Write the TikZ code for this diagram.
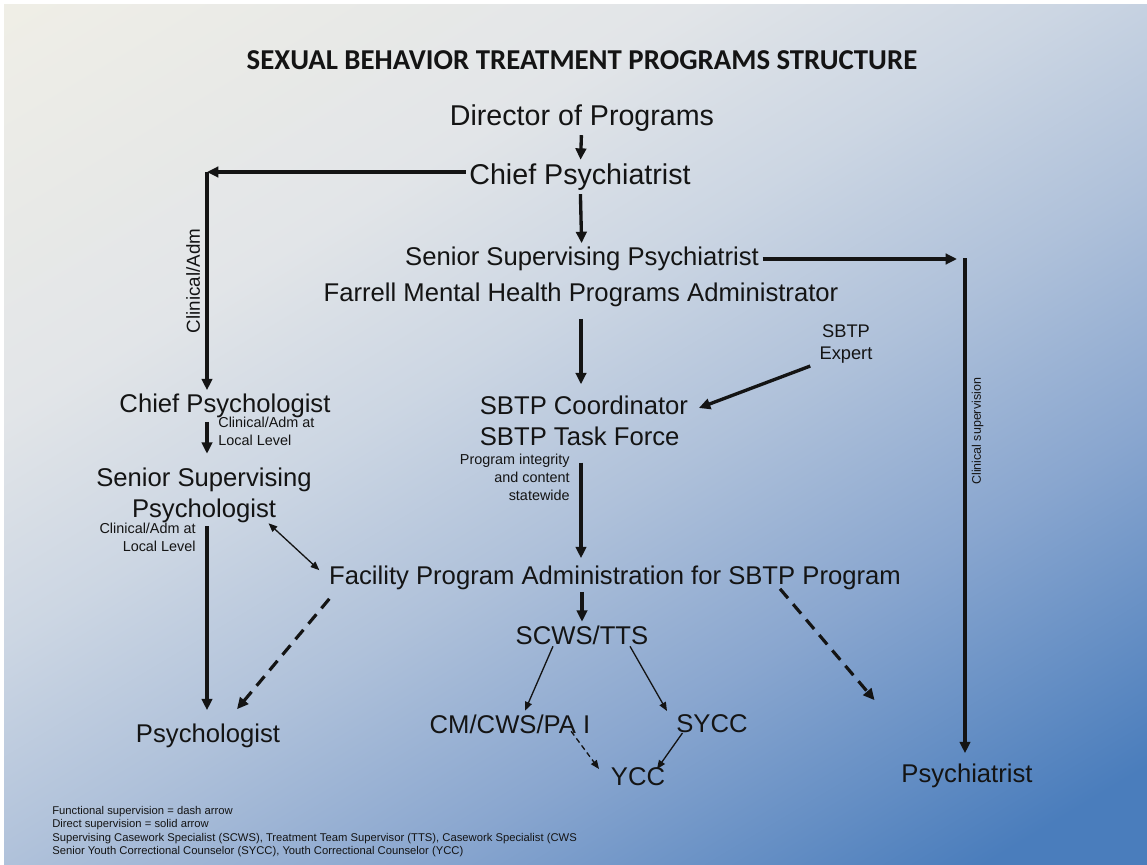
\documentclass[tikz,border=0pt]{standalone}
\usepackage{fontspec}
\setmainfont{Liberation Sans}
\newfontfamily\headfont{Carlito}
\usetikzlibrary{arrows.meta,positioning,calc}

\definecolor{bgT}{HTML}{F2F0E6}
\definecolor{bgA}{HTML}{E2E5E8}
\definecolor{bgB}{HTML}{CCD6E3}
\definecolor{bgC}{HTML}{AFC1DA}
\definecolor{bgD}{HTML}{89A6CF}
\definecolor{bgE}{HTML}{4A7DBC}
\definecolor{ink}{HTML}{141414}
\pgfdeclareverticalshading{bgshade}{100bp}{color(0bp)=(bgE); color(20bp)=(bgE);
  color(35bp)=(bgD); color(46bp)=(bgC); color(56bp)=(bgB); color(66bp)=(bgA);
  color(88bp)=(bgT); color(100bp)=(bgT)}

\begin{document}
\begin{tikzpicture}[x=0.02cm,y=-0.02cm,text=ink,
    toplbl/.style={font=\fontsize{16.3}{18.2}\selectfont, inner sep=2pt},
    lbl/.style={font=\fontsize{14.6}{17.6}\selectfont, inner sep=2pt},
    note/.style={font=\fontsize{8.2}{10.1}\selectfont, inner sep=0pt},
    key/.style={font=\fontsize{6.4}{7.55}\selectfont, inner sep=0pt},
    direct/.style={draw=ink, line width=1.9pt, -{Triangle[length=6.5pt,width=6pt]}},
    minor/.style={draw=ink, line width=0.75pt, -{Triangle[length=5pt,width=4pt]}},
    functional/.style={draw=ink, line width=1.8pt, dash pattern=on 7pt off 4.5pt,
      -{Triangle[length=6.5pt,width=6pt]}}]
    \fill[white] (0,0) rectangle (1147,865);
    \shade[shading=bgshade, shading angle=31] (4,5) rectangle (1147,865);
    \useasboundingbox (0,0) rectangle (1147,865);

    \node[font={\headfont\bfseries\fontsize{16.4}{19}\selectfont}] (title) at (582,60)
        {SEXUAL BEHAVIOR TREATMENT PROGRAMS STRUCTURE};

    \node[toplbl] (dir) at (582,118) {Director of Programs};
    \node[toplbl] (cpsych) at (580,177) {Chief Psychiatrist};
    \node[lbl] (ssp) at (582,259) {Senior Supervising Psychiatrist};
    \node[lbl] (fmh) at (581,295) {Farrell Mental Health Programs Administrator};
    \node[lbl, align=left, anchor=west] (sbtp) at (476,421) {SBTP Coordinator\\SBTP Task Force};
    \node[note, align=center, font=\fontsize{10.4}{13}\selectfont] (expert) at (846,344) {SBTP\\Expert};
    \node[note, align=right, anchor=north east] (integ) at (570,454) {Program integrity\\and content\\statewide};
    \node[lbl] (fac) at (615,578) {Facility Program Administration for SBTP Program};
    \node[lbl] (scws) at (582,635) {SCWS/TTS};
    \node[lbl] (cm) at (510,724) {CM/CWS/PA I};
    \node[lbl] (sycc) at (712,724) {SYCC};
    \node[lbl] (ycc) at (638,777) {YCC};

    \node[lbl] (cpsy) at (225,406) {Chief Psychologist};
    \node[note, align=left, anchor=north west] (local1) at (218,417) {Clinical/Adm at\\Local Level};
    \node[lbl, align=center] (sspsy) at (204,495) {Senior Supervising\\Psychologist};
    \node[note, align=right, anchor=north east] (local2) at (196,523) {Clinical/Adm at\\Local Level};
    \node[lbl] (psy) at (208,736) {Psychologist};
    \node[lbl] (psyt) at (967,776) {Psychiatrist};

    \node[key, align=left, anchor=north west] (legend) at (52,806)
        {Functional supervision = dash arrow\\
         Direct supervision = solid arrow\\
         Supervising Casework Specialist (SCWS), Treatment Team Supervisor (TTS), Casework Specialist (CWS\\
         Senior Youth Correctional Counselor (SYCC), Youth Correctional Counselor (YCC)};

    \coordinate (lcorner) at (207,172);
    \coordinate (rcorner) at (965,258);

    \draw[direct] (dir) -- (cpsych);
    \draw[direct] (cpsych.west |- lcorner) -- (lcorner);
    \draw[direct] (lcorner) -- (lcorner |- cpsy.north)
        node[pos=0.5, rotate=90, anchor=south, inner sep=3pt, font=\fontsize{10.7}{12}\selectfont] {Clinical/Adm};
    \draw[direct] (cpsych) -- (ssp);
    \draw[direct] (ssp.east) -- ($(ssp.east -| rcorner)+(-8,0)$);
    \draw[direct] (rcorner) -- ($(rcorner |- psyt.north)+(0,-7)$)
        node[pos=0.35, rotate=90, anchor=north, inner sep=3pt, font=\fontsize{7.1}{8}\selectfont] {Clinical supervision};
    \draw[direct] ($(fmh.south)+(0,8)$) -- ($(sbtp.north -| fmh)+(0,-8)$);
    \draw[direct] ($(expert.south west)+(-9,2)$) -- ($(sbtp.east)+(7,-13)$);
    \draw[direct] ($(sbtp.south -| fmh)+(0,13)$) -- ($(fac.north -| fmh)+(0,-4)$);
    \draw[direct] ($(scws.north |- fac.south)+(0,-2)$) -- (scws.north);
    \draw[minor] ($(scws.south)+(-29,-2)$) -- ($(cm.north)+(15,0)$);
    \draw[minor] ($(scws.south)+(48,-2)$) -- ($(sycc.north)+(-45,0)$);
    \draw[minor, dash pattern=on 3pt off 2pt] ($(cm.south east)+(-23,-6)$) -- ($(ycc.north west)+(-8,5)$);
    \draw[minor] ($(sycc.south west)+(10,-4)$) -- ($(ycc.north east)+(-12,5)$);

    \draw[direct] (cpsy.south -| lcorner) -- ($(sspsy.north -| lcorner)+(0,-10)$);
    \draw[direct] (sspsy.south -| lcorner) -- ($(psy.north -| lcorner)+(0,-10)$);
    \draw[minor, {Triangle[length=5pt,width=4pt]}-{Triangle[length=5pt,width=4pt]}]
        ($(sspsy.south east)+(-47,-3)$) -- ($(fac.north west)+(-6,8)$);
    \draw[functional] ($(fac.south west)+(4,5)$) -- ($(psy.north)+(29,-11)$);
    \draw[functional] ($(fac.south)+(165,-5)$) -- ($(psyt.north west)+(-23,-60)$);
\end{tikzpicture}
\end{document}
